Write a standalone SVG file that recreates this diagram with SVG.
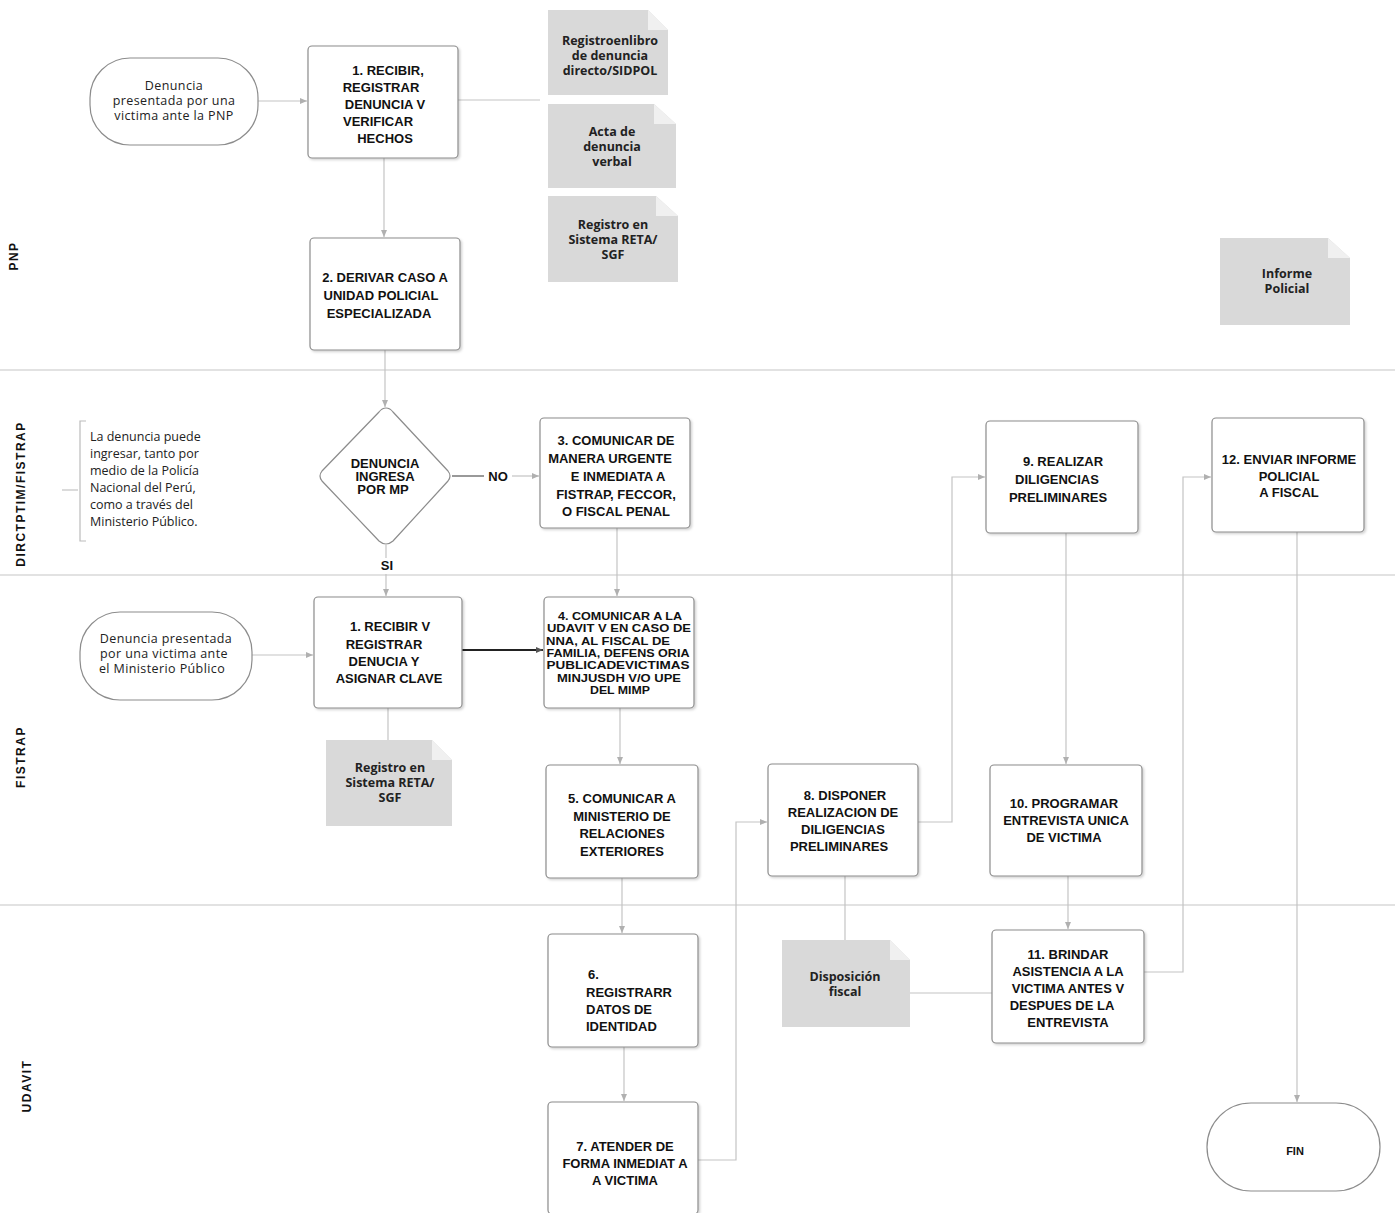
<svg xmlns="http://www.w3.org/2000/svg" width="1395" height="1213" viewBox="0 0 1395 1213">
<defs>
<marker id="arr" markerWidth="8" markerHeight="8" refX="7" refY="4" orient="auto" markerUnits="userSpaceOnUse">
<path d="M0,1 L7,4 L0,7 Z" fill="#b0b0b0"/>
</marker>
<marker id="arrd" markerWidth="8" markerHeight="8" refX="7" refY="4" orient="auto" markerUnits="userSpaceOnUse">
<path d="M0,1 L7,4 L0,7 Z" fill="#555"/>
</marker>
<filter id="sh" x="-5%" y="-5%" width="112%" height="112%">
<feDropShadow dx="1.5" dy="1.5" stdDeviation="1" flood-color="#000" flood-opacity="0.18"/>
</filter>
</defs>
<style>
.box{fill:#fff;stroke:#8c8c8c;stroke-width:1.2;filter:url(#sh)}
.term{fill:#fff;stroke:#8c8c8c;stroke-width:1.2}
.doc{fill:#d9d9d9;stroke:none}
.fold{fill:#f0f0f0;stroke:none}
.t{font-family:"Liberation Sans",Arial,sans-serif;font-weight:bold;font-size:13px;fill:#111;text-anchor:middle}
.ts{font-family:"Liberation Sans",Arial,sans-serif;font-weight:bold;font-size:11.5px;fill:#111;text-anchor:middle}
.d{font-family:"Open Sans",Lato,sans-serif;font-weight:bold;font-size:12.5px;fill:#222;text-anchor:middle}
.n{font-family:"Open Sans",Lato,sans-serif;font-size:12.5px;letter-spacing:0.4px;fill:#222;text-anchor:middle}
.nl{font-family:"Open Sans",Lato,sans-serif;font-size:12.5px;fill:#222}
.lane{font-family:"Liberation Sans",Arial,sans-serif;font-weight:bold;font-size:12px;letter-spacing:1.5px;fill:#111;text-anchor:middle}
.c{fill:none;stroke:#c4c4c4;stroke-width:1.2}
.lanel{stroke:#e2e2e2;stroke-width:2}
</style>
<rect width="1395" height="1213" fill="#fff"/>

<g id="lanes">
<line class="lanel" x1="0" y1="370" x2="1395" y2="370"/>
<line class="lanel" x1="0" y1="575" x2="1395" y2="575"/>
<line class="lanel" x1="0" y1="905" x2="1395" y2="905"/>
<text class="lane" transform="translate(18,256) rotate(-90)">PNP</text>
<text class="lane" transform="translate(25,494) rotate(-90)">DIRCTPTIM/FISTRAP</text>
<text class="lane" transform="translate(25,757) rotate(-90)">FISTRAP</text>
<text class="lane" transform="translate(31,1086) rotate(-90)">UDAVIT</text>
</g>

<g id="connectors">
<line class="c" x1="258" y1="101" x2="307" y2="101" marker-end="url(#arr)"/>
<line class="c" x1="458" y1="100" x2="540" y2="100"/>
<line class="c" x1="384" y1="158" x2="384" y2="237" marker-end="url(#arr)"/>
<line class="c" x1="385" y1="350" x2="385" y2="407" marker-end="url(#arr)"/>
<line x1="452" y1="476" x2="484" y2="476" stroke="#777" stroke-width="1.5"/>
<line class="c" x1="512" y1="476" x2="539" y2="476" marker-end="url(#arr)"/>
<line class="c" x1="386" y1="545" x2="386" y2="558"/>
<line class="c" x1="386" y1="574" x2="386" y2="596" marker-end="url(#arr)"/>
<line class="c" x1="617" y1="528" x2="617" y2="596" marker-end="url(#arr)"/>
<line class="c" x1="252" y1="655" x2="313" y2="655" marker-end="url(#arr)"/>
<line x1="462" y1="650" x2="543" y2="650" stroke="#222" stroke-width="2" marker-end="url(#arrd)"/>
<line class="c" x1="388" y1="708" x2="388" y2="740"/>
<line class="c" x1="620" y1="708" x2="620" y2="764" marker-end="url(#arr)"/>
<line class="c" x1="622" y1="878" x2="622" y2="933" marker-end="url(#arr)"/>
<line class="c" x1="624" y1="1047" x2="624" y2="1101" marker-end="url(#arr)"/>
<polyline class="c" points="698,1160 736,1160 736,822 767,822" marker-end="url(#arr)"/>
<polyline class="c" points="918,822 952,822 952,477 985,477" marker-end="url(#arr)"/>
<line class="c" x1="845" y1="876" x2="845" y2="940"/>
<line class="c" x1="910" y1="993" x2="992" y2="993"/>
<line class="c" x1="1066" y1="533" x2="1066" y2="764" marker-end="url(#arr)"/>
<line class="c" x1="1068" y1="876" x2="1068" y2="929" marker-end="url(#arr)"/>
<polyline class="c" points="1144,972 1183,972 1183,477 1211,477" marker-end="url(#arr)"/>
<line class="c" x1="1297" y1="532" x2="1297" y2="1102" marker-end="url(#arr)"/>
<line class="c" x1="62" y1="490" x2="78" y2="490"/>
</g>

<g id="start1">
<rect class="term" x="90" y="58" width="168" height="87" rx="40"/>
<text class="n" x="174" y="90">Denuncia</text>
<text class="n" x="174" y="105">presentada por una</text>
<text class="n" x="174" y="120">victima ante la PNP</text>
</g>

<g id="box1pnp">
<rect class="box" x="308" y="46" width="150" height="112" rx="4"/>
<text class="t" x="388" y="75">1.  RECIBIR,</text>
<text class="t" x="381" y="92">REGISTRAR</text>
<text class="t" x="385" y="109">DENUNCIA  V</text>
<text class="t" x="378" y="126">VERIFICAR</text>
<text class="t" x="385" y="143">HECHOS</text>
</g>

<g id="doc1">
<path class="doc" d="M548,10 H648 L668,30 V95 H548 Z"/>
<path class="fold" d="M648,10 L668,30 H648 Z"/>
<text class="d" x="610" y="45">Registroenlibro</text>
<text class="d" x="610" y="60">de denuncia</text>
<text class="d" x="610" y="75">directo/SIDPOL</text>
</g>

<g id="doc2">
<path class="doc" d="M548,104 H654 L676,124 V188 H548 Z"/>
<path class="fold" d="M654,104 L676,124 H654 Z"/>
<text class="d" x="612" y="136">Acta de</text>
<text class="d" x="612" y="151">denuncia</text>
<text class="d" x="612" y="166">verbal</text>
</g>

<g id="doc3">
<path class="doc" d="M548,196 H656 L678,216 V282 H548 Z"/>
<path class="fold" d="M656,196 L678,216 H656 Z"/>
<text class="d" x="613" y="229">Registro en</text>
<text class="d" x="613" y="244">Sistema RETA/</text>
<text class="d" x="613" y="259">SGF</text>
</g>

<g id="box2">
<rect class="box" x="310" y="238" width="150" height="112" rx="4"/>
<text class="t" x="385" y="282">2. DERIVAR CASO A</text>
<text class="t" x="381" y="300">UNIDAD POLICIAL</text>
<text class="t" x="379" y="318">ESPECIALIZADA</text>
</g>

<g id="docInforme">
<path class="doc" d="M1220,238 H1328 L1350,258 V325 H1220 Z"/>
<path class="fold" d="M1328,238 L1350,258 H1328 Z"/>
<text class="d" x="1287" y="278">Informe</text>
<text class="d" x="1287" y="293">Policial</text>
</g>

<g id="note">
<path d="M86,421 H80 V541 H86" fill="none" stroke="#bbb" stroke-width="1.2"/>
<text class="nl" x="90" y="441">La denuncia puede</text>
<text class="nl" x="90" y="458">ingresar, tanto por</text>
<text class="nl" x="90" y="475">medio de la Policía</text>
<text class="nl" x="90" y="492">Nacional del Perú,</text>
<text class="nl" x="90" y="509">como a través del</text>
<text class="nl" x="90" y="526">Ministerio Público.</text>
</g>

<g id="decision">
<path d="M386,408 Q390,408 393,412 L448,471 Q452,476 448,481 L393,541 Q386,547 379,541 L322,481 Q318,476 322,471 L379,412 Q382,408 386,408 Z" fill="#fff" stroke="#8c8c8c" stroke-width="1.2"/>
<text class="t" x="385" y="468">DENUNCIA</text>
<text class="t" x="385" y="481">INGRESA</text>
<text class="t" x="383" y="494">POR MP</text>
<text class="t" x="498" y="481">NO</text>
<text class="t" x="387" y="570">SI</text>
</g>

<g id="box3">
<rect class="box" x="540" y="418" width="150" height="110" rx="4"/>
<text class="t" x="616" y="445">3. COMUNICAR DE</text>
<text class="t" x="610" y="463">MANERA URGENTE</text>
<text class="t" x="618" y="481">E INMEDIATA A</text>
<text class="t" x="616" y="499">FISTRAP, FECCOR,</text>
<text class="t" x="616" y="516">O FISCAL PENAL</text>
</g>

<g id="start2">
<rect class="term" x="80" y="612" width="172" height="88" rx="40"/>
<text class="n" x="166" y="643">Denuncia  presentada</text>
<text class="n" x="164" y="658">por una victima ante</text>
<text class="n" x="162" y="673">el  Ministerio Público</text>
</g>

<g id="boxF1">
<rect class="box" x="314" y="597" width="148" height="111" rx="4"/>
<text class="t" x="390" y="631">1. RECIBIR V</text>
<text class="t" x="384" y="649">REGISTRAR</text>
<text class="t" x="384" y="666">DENUCIA Y</text>
<text class="t" x="389" y="683">ASIGNAR CLAVE</text>
</g>

<g id="box4">
<rect class="box" x="544" y="597" width="150" height="111" rx="4"/>
<text class="ts" x="620" y="620" textLength="124" lengthAdjust="spacingAndGlyphs">4. COMUNICAR A LA</text>
<text class="ts" x="619" y="632" textLength="144" lengthAdjust="spacingAndGlyphs">UDAVIT V EN CASO DE</text>
<text class="ts" x="608" y="645" textLength="124" lengthAdjust="spacingAndGlyphs">NNA, AL FISCAL DE</text>
<text class="ts" x="618" y="657" textLength="143" lengthAdjust="spacingAndGlyphs">FAMILIA, DEFENS ORIA</text>
<text class="ts" x="618" y="669" textLength="143" lengthAdjust="spacingAndGlyphs">PUBLICADEVICTIMAS</text>
<text class="ts" x="619" y="682" textLength="124" lengthAdjust="spacingAndGlyphs">MINJUSDH V/O UPE</text>
<text class="ts" x="620" y="694" textLength="60" lengthAdjust="spacingAndGlyphs">DEL MIMP</text>
</g>

<g id="docF">
<path class="doc" d="M326,740 H432 L452,760 V826 H326 Z"/>
<path class="fold" d="M432,740 L452,760 H432 Z"/>
<text class="d" x="390" y="772">Registro en</text>
<text class="d" x="390" y="787">Sistema RETA/</text>
<text class="d" x="390" y="802">SGF</text>
</g>

<g id="box5">
<rect class="box" x="546" y="765" width="152" height="113" rx="4"/>
<text class="t" x="622" y="803">5. COMUNICAR A</text>
<text class="t" x="622" y="821">MINISTERIO DE</text>
<text class="t" x="622" y="838">RELACIONES</text>
<text class="t" x="622" y="856">EXTERIORES</text>
</g>

<g id="box8">
<rect class="box" x="768" y="764" width="150" height="112" rx="4"/>
<text class="t" x="845" y="800">8. DISPONER</text>
<text class="t" x="843" y="817">REALIZACION DE</text>
<text class="t" x="843" y="834">DILIGENCIAS</text>
<text class="t" x="839" y="851">PRELIMINARES</text>
</g>

<g id="box9">
<rect class="box" x="986" y="421" width="152" height="112" rx="4"/>
<text class="t" x="1063" y="466">9. REALIZAR</text>
<text class="t" x="1057" y="484">DILIGENCIAS</text>
<text class="t" x="1058" y="502">PRELIMINARES</text>
</g>

<g id="box12">
<rect class="box" x="1212" y="418" width="152" height="114" rx="4"/>
<text class="t" x="1289" y="464">12. ENVIAR INFORME</text>
<text class="t" x="1289" y="481">POLICIAL</text>
<text class="t" x="1289" y="497">A FISCAL</text>
</g>

<g id="box10">
<rect class="box" x="990" y="765" width="152" height="111" rx="4"/>
<text class="t" x="1064" y="808">10. PROGRAMAR</text>
<text class="t" x="1066" y="825">ENTREVISTA UNICA</text>
<text class="t" x="1064" y="842">DE VICTIMA</text>
</g>

<g id="box6">
<rect class="box" x="548" y="934" width="150" height="113" rx="4"/>
<text class="t" x="588" y="979" style="text-anchor:start">6.</text>
<text class="t" x="586" y="997" style="text-anchor:start">REGISTRARR</text>
<text class="t" x="586" y="1014" style="text-anchor:start">DATOS DE</text>
<text class="t" x="586" y="1031" style="text-anchor:start">IDENTIDAD</text>
</g>

<g id="docDisp">
<path class="doc" d="M782,940 H890 L910,960 V1027 H782 Z"/>
<path class="fold" d="M890,940 L910,960 H890 Z"/>
<text class="d" x="845" y="981">Disposición</text>
<text class="d" x="845" y="996">fiscal</text>
</g>

<g id="box11">
<rect class="box" x="992" y="930" width="152" height="113" rx="4"/>
<text class="t" x="1068" y="959">11. BRINDAR</text>
<text class="t" x="1068" y="976">ASISTENCIA A LA</text>
<text class="t" x="1068" y="993">VICTIMA ANTES V</text>
<text class="t" x="1062" y="1010">DESPUES DE LA</text>
<text class="t" x="1068" y="1027">ENTREVISTA</text>
</g>

<g id="box7">
<rect class="box" x="548" y="1102" width="150" height="112" rx="4"/>
<text class="t" x="625" y="1151">7. ATENDER DE</text>
<text class="t" x="625" y="1168">FORMA INMEDIAT A</text>
<text class="t" x="625" y="1185">A VICTIMA</text>
</g>

<g id="fin">
<rect class="term" x="1207" y="1103" width="173" height="88" rx="44"/>
<text class="t" x="1295" y="1155" style="font-size:11px">FIN</text>
</g>
</svg>
